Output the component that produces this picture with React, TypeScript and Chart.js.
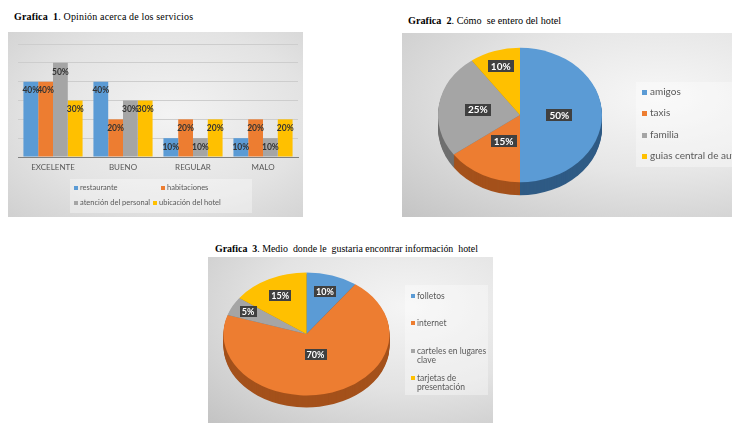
import React, { useEffect, useRef } from "react";
import { Chart, registerables } from "chart.js";
Chart.register(...registerables);

const FONT = "Lato, 'Open Sans', sans-serif";

// ---------- Grafica 1 data ----------
const barCategories = ["EXCELENTE", "BUENO", "REGULAR", "MALO"];
const barSeriesNames = ["restaurante", "habitaciones", "atención del personal", "ubicación del hotel"];
const restaurante = [40, 40, 10, 10];
const habitaciones = [40, 20, 20, 20];
const atencionPersonal = [50, 30, 10, 10];
const ubicacionHotel = [30, 30, 20, 20];
const barAxisMax = 60;
const barAxisStep = 10;

// ---------- Grafica 2 data ----------
const pie2Labels = ["amigos", "taxis", "familia", "guias central de autobuses"];
const pie2Values = [50, 15, 25, 10];

// ---------- Grafica 3 data ----------
const pie3Labels: (string | string[])[] = ["folletos", "internet", ["carteles en lugares", "clave"], ["tarjetas de", "presentación"]];
const pie3Values = [10, 70, 5, 15];

const COLORS = ["#5B9BD5", "#ED7D31", "#A5A5A5", "#FFC000"];
const SIDE_COLORS = ["#2f5b85", "#a4511b", "#6f6f6f", "#b08500"];

type LegendCfg = {
  kind: "bar" | "pie";
  pos: [number, number][]; // x < 0 means: flow right after the previous item
  font: number;
  lineH: number;
  marker: number;
  gap: number;
  box: [number, number, number, number];
  color: string;
};

function makeLegend(cfg: LegendCfg) {
  return {
    id: "boxLegend",
    afterDraw(chart: any) {
      const ctx = chart.ctx;
      const ds = chart.data.datasets;
      const entries =
        cfg.kind === "bar"
          ? ds.map((d: any) => ({ text: d.label, color: d.backgroundColor }))
          : chart.data.labels.map((l: any, i: number) => ({ text: l, color: ds[0].backgroundColor[i] }));
      ctx.save();
      const [bx, by, bw, bh] = cfg.box;
      ctx.fillStyle = "rgba(255,255,255,0.35)";
      ctx.fillRect(bx, by, bw, bh);
      ctx.font = `${cfg.font}px ${FONT}`;
      ctx.textBaseline = "middle";
      ctx.textAlign = "left";
      let prevEnd = 0;
      entries.forEach((e: any, i: number) => {
        let [x, y] = cfg.pos[i];
        if (x < 0) x = Math.round(prevEnd + 3);
        ctx.fillStyle = e.color;
        ctx.fillRect(x, Math.round(y - cfg.marker / 2), cfg.marker, cfg.marker);
        ctx.fillStyle = cfg.color;
        const lines = Array.isArray(e.text) ? e.text : [e.text];
        let wMax = 0;
        lines.forEach((t: string, j: number) => {
          ctx.fillText(t, x + cfg.marker + cfg.gap, y + j * cfg.lineH);
          wMax = Math.max(wMax, ctx.measureText(t).width);
        });
        prevEnd = x + cfg.marker + cfg.gap + wMax;
      });
      ctx.restore();
    },
  };
}

const barLabels = {
  id: "barLabels",
  afterDatasetsDraw(chart: any) {
    const ctx = chart.ctx;
    ctx.save();
    ctx.font = `bold 8.5px ${FONT}`;
    ctx.textAlign = "center";
    ctx.textBaseline = "middle";
    ctx.fillStyle = "#333333";
    chart.data.datasets.forEach((d: any, di: number) => {
      chart.getDatasetMeta(di).data.forEach((el: any, i: number) => {
        ctx.fillText(`${d.data[i]}%`, el.x, el.y + 9);
      });
    });
    ctx.restore();
  },
};

type PieCfg = { cy: number; k: number; depth: number; labelR: number[]; font: number; padX: number; boxH: number };

function makePie3D(cfg: PieCfg) {
  return {
    id: "pie3d",
    beforeDatasetsDraw(chart: any) {
      const ctx = chart.ctx;
      const arcs = chart.getDatasetMeta(0).data;
      const cx = arcs[0].x;
      const cy = arcs[0].y;
      for (let d = cfg.depth; d >= 1; d--) {
        ctx.save();
        ctx.translate(cx, cfg.cy + d);
        ctx.scale(1, cfg.k);
        arcs.forEach((a: any, i: number) => {
          ctx.beginPath();
          ctx.moveTo(0, 0);
          ctx.arc(0, 0, a.outerRadius, a.startAngle, a.endAngle);
          ctx.closePath();
          ctx.fillStyle = SIDE_COLORS[i];
          ctx.fill();
        });
        ctx.restore();
      }
      ctx.save();
      ctx.translate(cx, cfg.cy);
      ctx.scale(1, cfg.k);
      ctx.translate(-cx, -cy);
    },
    afterDatasetsDraw(chart: any) {
      const ctx = chart.ctx;
      ctx.restore();
      const arcs = chart.getDatasetMeta(0).data;
      const values = chart.data.datasets[0].data;
      ctx.save();
      ctx.font = `bold ${cfg.font}px ${FONT}`;
      ctx.textAlign = "center";
      ctx.textBaseline = "middle";
      arcs.forEach((a: any, i: number) => {
        const mid = (a.startAngle + a.endAngle) / 2;
        const r = a.outerRadius * cfg.labelR[i];
        const x = a.x + Math.cos(mid) * r;
        const y = cfg.cy + Math.sin(mid) * r * cfg.k;
        const t = `${values[i]}%`;
        const w = ctx.measureText(t).width + 2 * cfg.padX;
        ctx.fillStyle = "#404040";
        ctx.fillRect(Math.round(x - w / 2), Math.round(y - cfg.boxH / 2), Math.round(w), cfg.boxH);
        ctx.fillStyle = "#ffffff";
        ctx.fillText(t, x, y + 0.5);
      });
      ctx.restore();
    },
  };
}

function BarPanel() {
  const ref = useRef<HTMLCanvasElement>(null);
  useEffect(() => {
    const series = [restaurante, habitaciones, atencionPersonal, ubicacionHotel];
    const chart = new Chart(ref.current as HTMLCanvasElement, {
      type: "bar",
      data: {
        labels: barCategories,
        datasets: series.map((s, i) => ({
          label: barSeriesNames[i],
          data: s,
          backgroundColor: COLORS[i],
          borderWidth: 0,
          categoryPercentage: 0.845,
          barPercentage: 1,
        })),
      },
      options: {
        animation: false,
        responsive: false,
        devicePixelRatio: 1,
        layout: { padding: { left: 10, right: 5, top: 12, bottom: 40 } },
        plugins: { legend: { display: false }, tooltip: { enabled: false } },
        scales: {
          x: {
            grid: { display: false, drawTicks: false },
            border: { display: true, color: "#7f7f7f", width: 1 },
            ticks: { color: "#595959", font: { family: FONT, size: 8 }, padding: 6 },
            afterFit: (s: any) => {
              s.height = 20;
            },
          },
          y: {
            min: 0,
            max: barAxisMax,
            ticks: { display: false, stepSize: barAxisStep },
            grid: {
              color: (c: any) => (c.tick && c.tick.value === 0 ? "#7f7f7f" : "#cdcdcd"),
              drawTicks: false,
            },
            border: { display: false },
            afterFit: (s: any) => {
              s.width = 0;
            },
          },
        },
      } as any,
      plugins: [
        barLabels,
        makeLegend({
          kind: "bar",
          pos: [
            [66, 156],
            [153, 156],
            [66, 171],
            [-1, 171],
          ],
          font: 7.5,
          lineH: 10,
          marker: 4,
          gap: 2,
          box: [62, 147, 182, 34],
          color: "#595959",
        }),
      ],
    });
    return () => chart.destroy();
  }, []);
  return <canvas ref={ref} width={295} height={185} style={{ display: "block" }} />;
}

function PiePanel(props: {
  labels: (string | string[])[];
  values: number[];
  width: number;
  height: number;
  cx: number;
  radius: number;
  pie: PieCfg;
  legend: LegendCfg;
}) {
  const ref = useRef<HTMLCanvasElement>(null);
  useEffect(() => {
    const chart = new Chart(ref.current as HTMLCanvasElement, {
      type: "pie",
      data: {
        labels: props.labels as any,
        datasets: [
          {
            data: props.values,
            backgroundColor: COLORS,
            borderWidth: 0,
            radius: props.radius,
          } as any,
        ],
      },
      options: {
        animation: false,
        responsive: false,
        devicePixelRatio: 1,
        radius: props.radius,
        layout: { padding: { left: 0, right: props.width - 2 * props.cx, top: 0, bottom: 0 } },
        plugins: { legend: { display: false }, tooltip: { enabled: false } },
      } as any,
      plugins: [makePie3D(props.pie), makeLegend(props.legend)],
    });
    return () => chart.destroy();
  }, []);
  return <canvas ref={ref} width={props.width} height={props.height} style={{ display: "block" }} />;
}

const titleStyle: React.CSSProperties = {
  position: "absolute",
  fontFamily: "'Liberation Serif', 'Times New Roman', Tinos, 'DejaVu Serif', serif",
  lineHeight: "12px",
  color: "#000",
  whiteSpace: "nowrap",
};

export default function App() {
  return (
    <div
      style={{
        position: "fixed",
        left: 0,
        top: 0,
        width: 732,
        height: 423,
        overflow: "hidden",
        background: "#ffffff",
      }}
    >
      <div style={{ ...titleStyle, left: 14, top: 11, fontSize: "10px", letterSpacing: "0.15px" }}>
        <b>Grafica&nbsp; 1</b>. Opinión acerca de los servicios
      </div>
      <div
        style={{
          position: "absolute",
          left: 8,
          top: 32,
          width: 295,
          height: 185,
          background: "radial-gradient(ellipse at 55% 45%, #f3f3f3 0%, #e3e3e3 60%, #d0d0d0 100%)",
        }}
      >
        <BarPanel />
      </div>

      <div style={{ ...titleStyle, left: 408, top: 15, fontSize: "10.2px" }}>
        <b>Grafica&nbsp; 2</b>. Cómo&nbsp; se entero del hotel
      </div>
      <div
        style={{
          position: "absolute",
          left: 402,
          top: 33,
          width: 330,
          height: 184,
          background: "radial-gradient(ellipse at 78% 35%, #f7f7f7 0%, #e6e6e6 45%, #c4c4c4 100%)",
        }}
      >
        <PiePanel
          labels={pie2Labels}
          values={pie2Values}
          width={330}
          height={184}
          cx={118}
          radius={82}
          pie={{ cy: 82, k: 0.82, depth: 13, labelR: [0.48, 0.44, 0.52, 0.76], font: 10, padX: 3, boxH: 12 }}
          legend={{
            kind: "pie",
            pos: [
              [240, 59],
              [240, 80],
              [240, 102],
              [240, 123],
            ],
            font: 10,
            lineH: 11,
            marker: 5,
            gap: 3,
            box: [234, 49, 96, 85],
            color: "#595959",
          }}
        />
      </div>

      <div style={{ ...titleStyle, left: 215, top: 243, fontSize: "9.9px" }}>
        <b>Grafica&nbsp; 3</b>. Medio&nbsp; donde le&nbsp; gustaria encontrar información&nbsp; hotel
      </div>
      <div
        style={{
          position: "absolute",
          left: 208,
          top: 257,
          width: 285,
          height: 166,
          background: "radial-gradient(ellipse at 70% 30%, #f5f5f5 0%, #e3e3e3 50%, #c3c3c3 100%)",
        }}
      >
        <PiePanel
          labels={pie3Labels}
          values={pie3Values}
          width={285}
          height={166}
          cx={98.5}
          radius={83}
          pie={{ cy: 77, k: 0.74, depth: 12, labelR: [0.72, 0.35, 0.79, 0.7], font: 9, padX: 2, boxH: 11 }}
          legend={{
            kind: "pie",
            pos: [
              [203, 39],
              [203, 66],
              [203, 94],
              [203, 121],
            ],
            font: 8.5,
            lineH: 9.5,
            marker: 4,
            gap: 2,
            box: [197, 28, 83, 110],
            color: "#595959",
          }}
        />
      </div>
    </div>
  );
}
